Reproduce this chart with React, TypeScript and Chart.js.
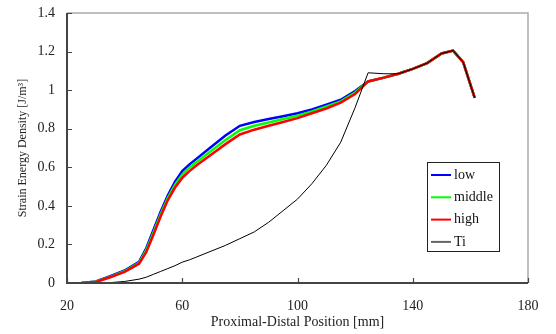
import React, { useEffect, useRef } from 'react';
import { Chart, registerables } from 'chart.js';
Chart.register(...registerables);

const positions = [25, 30, 35, 40, 45, 47.5, 50, 52.5, 55, 57.5, 60, 62.5, 65, 70, 75, 80, 85, 90, 95, 100, 105, 110, 115, 120, 124.5, 130, 135, 140, 145, 150, 154, 157.5, 161.5];
const lowValues = [0, 0.008, 0.035, 0.065, 0.11, 0.18, 0.275, 0.37, 0.455, 0.525, 0.58, 0.615, 0.645, 0.705, 0.765, 0.815, 0.835, 0.85, 0.865, 0.88, 0.9, 0.925, 0.95, 0.995, 1.045, 1.065, 1.085, 1.11, 1.14, 1.19, 1.205, 1.145, 0.96];
const middleValues = [0, 0.007, 0.032, 0.061, 0.105, 0.17, 0.262, 0.357, 0.442, 0.51, 0.562, 0.598, 0.628, 0.685, 0.742, 0.792, 0.815, 0.832, 0.85, 0.867, 0.89, 0.915, 0.942, 0.988, 1.045, 1.065, 1.085, 1.11, 1.14, 1.19, 1.205, 1.145, 0.96];
const highValues = [0, 0.005, 0.03, 0.058, 0.1, 0.16, 0.25, 0.345, 0.43, 0.495, 0.545, 0.58, 0.61, 0.665, 0.72, 0.77, 0.795, 0.815, 0.835, 0.855, 0.88, 0.905, 0.935, 0.98, 1.045, 1.065, 1.085, 1.11, 1.14, 1.19, 1.205, 1.145, 0.96];
const tiValues = [0, 0, 0.002, 0.008, 0.02, 0.03, 0.045, 0.06, 0.075, 0.09, 0.108, 0.12, 0.135, 0.165, 0.195, 0.23, 0.265, 0.315, 0.375, 0.435, 0.515, 0.61, 0.73, 0.91, 1.09, 1.085, 1.085, 1.11, 1.14, 1.19, 1.205, 1.145, 0.96];

const seriesNames = ['low', 'middle', 'high', 'Ti'];
const seriesColors = ['#0000ff', '#00ff00', '#ff0000', '#000000'];
const legendColors = ['#0000ff', '#00ff00', '#ff0000', '#666666'];
const xTicks = [20, 60, 100, 140, 180];
const yTicks = [0, 0.2, 0.4, 0.6, 0.8, 1, 1.2, 1.4];
const xTitle = 'Proximal-Distal Position [mm]';
const yTitle = 'Strain Energy Density [J/m³]';

const FONT = "'Liberation Serif', 'Times New Roman', serif";

const framePlugin = {
  id: 'frame',
  afterDatasetsDraw(chart: any) {
    const { ctx, chartArea: a } = chart;
    const xs = chart.scales.x;
    const ys = chart.scales.y;
    ctx.save();
    ctx.strokeStyle = '#aaaaaa';
    ctx.lineWidth = 1.5;
    ctx.beginPath();
    ctx.moveTo(a.left, a.top);
    ctx.lineTo(a.right, a.top);
    ctx.lineTo(a.right, a.bottom);
    ctx.stroke();
    ctx.strokeStyle = '#444444';
    ctx.lineWidth = 2;
    ctx.beginPath();
    ctx.moveTo(a.left, a.top);
    ctx.lineTo(a.left, a.bottom);
    ctx.lineTo(a.right, a.bottom);
    ctx.stroke();
    ctx.lineWidth = 1.2;
    ctx.beginPath();
    yTicks.forEach((v) => {
      const y = Math.round(ys.getPixelForValue(v)) + 0.5;
      ctx.moveTo(a.left, y);
      ctx.lineTo(a.left + 5, y);
    });
    xTicks.forEach((v) => {
      const x = Math.round(xs.getPixelForValue(v)) + 0.5;
      ctx.moveTo(x, a.bottom);
      ctx.lineTo(x, a.bottom - 5);
    });
    ctx.stroke();
    ctx.restore();
  },
  afterDraw(chart: any) {
    const { ctx } = chart;
    const x0 = 427, y0 = 162, w = 72, h = 89;
    ctx.save();
    ctx.fillStyle = '#ffffff';
    ctx.fillRect(x0, y0, w, h);
    ctx.strokeStyle = '#222222';
    ctx.lineWidth = 1;
    ctx.strokeRect(x0 + 0.5, y0 + 0.5, w, h);
    ctx.font = `14px ${FONT}`;
    ctx.textBaseline = 'middle';
    ctx.textAlign = 'left';
    seriesNames.forEach((name, i) => {
      const y = y0 + 13 + i * 22.3;
      ctx.strokeStyle = legendColors[i];
      ctx.lineWidth = 2;
      ctx.beginPath();
      ctx.moveTo(x0 + 4, y);
      ctx.lineTo(x0 + 24, y);
      ctx.stroke();
      ctx.fillStyle = '#111111';
      ctx.fillText(name, x0 + 27, y);
    });
    ctx.restore();
  },
};

export default function App() {
  const ref = useRef<HTMLCanvasElement>(null);
  useEffect(() => {
    const series = [lowValues, middleValues, highValues, tiValues];
    const orders = [3, 2, 1, 0];
    const chart = new Chart(ref.current!, {
      type: 'line',
      data: {
        datasets: series.map((vals, i) => ({
          label: seriesNames[i],
          data: positions.map((x, j) => ({ x, y: vals[j] })),
          borderColor: seriesColors[i],
          backgroundColor: seriesColors[i],
          borderWidth: i === 3 ? 1 : 2.5,
          pointRadius: 0,
          tension: 0,
          fill: false,
          order: orders[i],
        })),
      },
      options: {
        animation: false,
        responsive: false,
        devicePixelRatio: 1,
        layout: { padding: { left: 0, right: 28, top: 13, bottom: 0 } },
        plugins: { legend: { display: false }, tooltip: { enabled: false } },
        scales: {
          x: {
            type: 'linear',
            min: 20,
            max: 180,
            grid: { display: false },
            border: { display: false },
            afterBuildTicks: (s: any) => { s.ticks = xTicks.map((v) => ({ value: v })); },
            afterFit: (s: any) => { s.height = 51; },
            ticks: { color: '#222', padding: 7, maxRotation: 0, font: { family: FONT, size: 14 }, callback: (v: any) => String(v) },
            title: { display: true, text: xTitle, color: '#222', padding: { top: 0, bottom: 3 }, font: { family: FONT, size: 14 } },
          },
          y: {
            type: 'linear',
            min: 0,
            max: 1.4,
            grid: { display: false },
            border: { display: false },
            afterBuildTicks: (s: any) => { s.ticks = yTicks.map((v) => ({ value: v })); },
            afterFit: (s: any) => { s.width = 67; s.paddingTop = 0; s.paddingBottom = 0; },
            ticks: { color: '#222', padding: 4, font: { family: FONT, size: 14 }, callback: (v: any) => String(v) },
            title: { display: true, text: yTitle, color: '#222', padding: { top: 16, bottom: 0 }, font: { family: FONT, size: 12 } },
          },
        },
      },
      plugins: [framePlugin],
    } as any);
    return () => chart.destroy();
  }, []);
  return (
    <div style={{ position: 'fixed', left: 0, top: 0, width: 556, height: 334, background: '#fff' }}>
      <canvas ref={ref} width={556} height={334} />
    </div>
  );
}
